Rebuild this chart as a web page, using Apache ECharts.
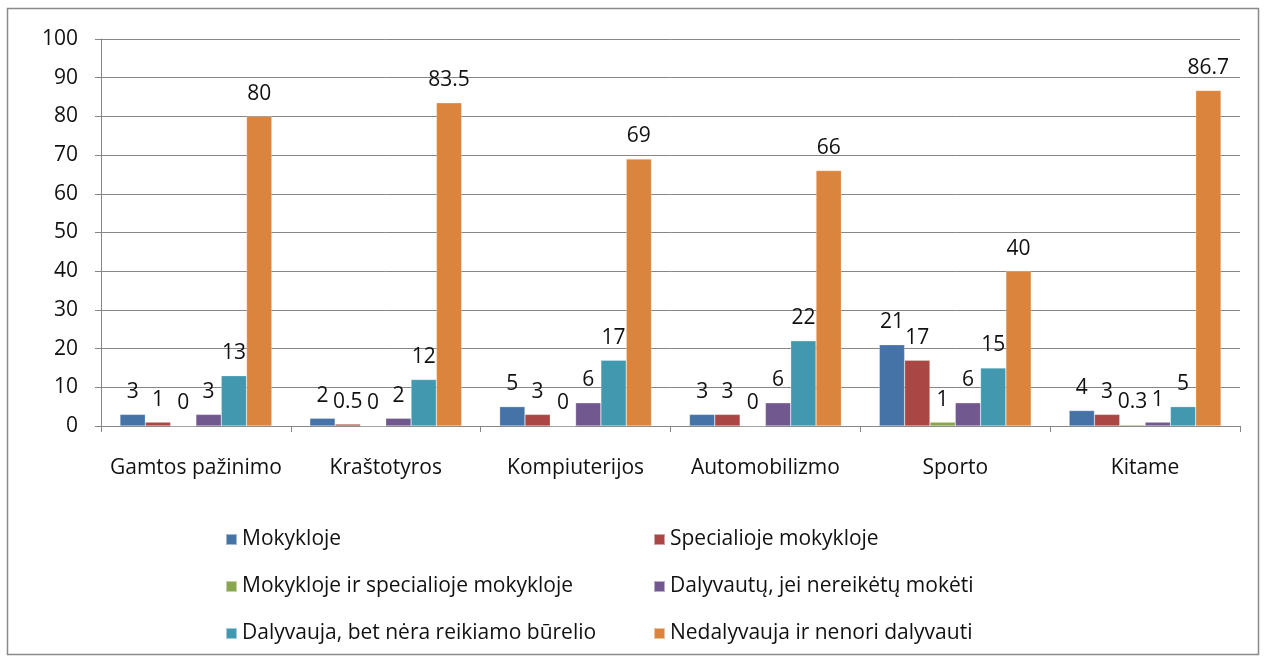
<!DOCTYPE html>
<html>
<head>
<meta charset="utf-8">
<script src="https://cdn.jsdelivr.net/npm/echarts@6/dist/echarts.min.js"></script>
<style>
  html, body { margin: 0; padding: 0; background: #fff; }
  #chart { width: 1264px; height: 662px; }
</style>
</head>
<body>
<div id="chart"></div>
<script>
// kategorijos
var categories = ['Gamtos pažinimo', 'Kraštotyros', 'Kompiuterijos', 'Automobilizmo', 'Sporto', 'Kitame'];

// serijos
var mokykloje = [3, 2, 5, 3, 21, 4];
var specialiojeMokykloje = [1, 0.5, 3, 3, 17, 3];
var abiejose = [0, 0, 0, 0, 1, 0.3];
var dalyvautuNemokamai = [3, 2, 6, 6, 6, 1];
var neraBurelio = [13, 12, 17, 22, 15, 5];
var nenori = [80, 83.5, 69, 66, 40, 86.7];

var seriesNames = [
  'Mokykloje',
  'Specialioje mokykloje',
  'Mokykloje ir specialioje mokykloje',
  'Dalyvautų, jei nereikėtų mokėti',
  'Dalyvauja, bet nėra reikiamo būrelio',
  'Nedalyvauja ir nenori dalyvauti'
];
var seriesData = [mokykloje, specialiojeMokykloje, abiejose, dalyvautuNemokamai, neraBurelio, nenori];
var colors = ['#4572A7', '#AA4643', '#89A54E', '#71588F', '#4198AF', '#DB843D'];

var font = '"Open Sans", Lato, sans-serif';

var chart = echarts.init(document.getElementById('chart'));

var legendBase = {
  orient: 'vertical',
  top: 524,
  itemWidth: 11,
  itemHeight: 11,
  itemGap: 26,
  icon: 'rect',
  textStyle: { fontFamily: font, fontSize: 21, color: '#111' }
};

var option = {
  animation: false,
  color: colors,
  graphic: [{
    type: 'rect',
    shape: { x: 7.5, y: 8.5, width: 1251, height: 646 },
    style: { fill: 'none', stroke: '#8a8a8a', lineWidth: 1.5 }
  }],
  grid: { left: 101, right: 24, top: 39, bottom: 236 },
  legend: [
    Object.assign({}, legendBase, { left: 220, data: [seriesNames[0], seriesNames[2], seriesNames[4]] }),
    Object.assign({}, legendBase, { left: 648, data: [seriesNames[1], seriesNames[3], seriesNames[5]] })
  ],
  xAxis: {
    type: 'category',
    data: categories,
    axisLine: { lineStyle: { color: '#868686' } },
    axisTick: { show: true, length: 6, lineStyle: { color: '#868686' } },
    axisLabel: { fontFamily: font, fontSize: 21, color: '#111', margin: 32, interval: 0 }
  },
  yAxis: {
    type: 'value',
    min: 0,
    max: 100,
    interval: 10,
    axisLine: { show: true, lineStyle: { color: '#868686' } },
    axisTick: { show: true, length: 6, lineStyle: { color: '#868686' } },
    splitLine: { lineStyle: { color: '#868686' } },
    axisLabel: { fontFamily: font, fontSize: 21, color: '#111', margin: 23 }
  },
  series: seriesNames.map(function (name, i) {
    return {
      name: name,
      type: 'bar',
      data: seriesData[i],
      barGap: '0%',
      barCategoryGap: '20%',
      itemStyle: { borderColor: 'rgba(255,255,255,0.5)', borderWidth: 0.5 },
      label: {
        show: true,
        position: 'top',
        distance: 12,
        fontFamily: font,
        fontSize: 21,
        color: '#111'
      }
    };
  })
};

chart.setOption(option);
</script>
</body>
</html>
